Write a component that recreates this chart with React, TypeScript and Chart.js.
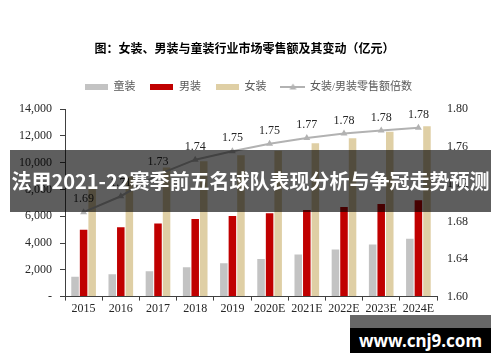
import React, { useEffect, useRef } from "react";
import { Chart, registerables } from "chart.js";

Chart.register(...registerables);

const categories = ["2015", "2016", "2017", "2018", "2019", "2020E", "2021E", "2022E", "2023E", "2024E"];
const kidsWear = [1480, 1665, 1890, 2185, 2480, 2800, 3150, 3520, 3895, 4310];
const mensWear = [4980, 5180, 5455, 5800, 6020, 6220, 6470, 6690, 6915, 7190];
const womensWear = [8260, 8950, 9640, 10110, 10540, 10890, 11440, 11820, 12310, 12710];
const ratio = [1.69, 1.707, 1.73, 1.746, 1.755, 1.763, 1.769, 1.774, 1.777, 1.78];
const ratioLabels = ["1.69", "1.71", "1.73", "1.74", "1.75", "1.75", "1.77", "1.78", "1.78", "1.78"];
const leftTicks = [0, 2000, 4000, 6000, 8000, 10000, 12000, 14000];
const rightTicks = [1.6, 1.64, 1.68, 1.72, 1.76, 1.8];
const seriesNames = ["童装", "男装", "女装", "女装/男装零售额倍数"];
const chartTitle = "图：女装、男装与童装行业市场零售额及其变动（亿元）";
const bannerText = "法甲2021-22赛季前五名球队表现分析与争冠走势预测";
const watermarkText = "www.cnj9.com";

const GRAY = "#c3c3c3";
const RED = "#c00000";
const BEIGE = "#dfcfa5";
const LINE = "#b2b2b2";
const AXIS = "#404040";
const TEXT = "#262626";
const SERIF = "'Liberation Serif', 'Noto Sans CJK SC', serif";

function boxImage(color: string) {
  const c = document.createElement("canvas");
  c.width = 23;
  c.height = 6;
  const g = c.getContext("2d")!;
  g.fillStyle = color;
  g.fillRect(0, 0, 23, 6);
  return c;
}

function lineImage() {
  const c = document.createElement("canvas");
  c.width = 25;
  c.height = 8;
  const g = c.getContext("2d")!;
  g.strokeStyle = LINE;
  g.lineWidth = 2;
  g.beginPath();
  g.moveTo(0, 4);
  g.lineTo(25, 4);
  g.stroke();
  g.fillStyle = LINE;
  g.beginPath();
  g.moveTo(12.5, 0.5);
  g.lineTo(16, 6.5);
  g.lineTo(9, 6.5);
  g.closePath();
  g.fill();
  return c;
}

export default function App() {
  const ref = useRef<HTMLCanvasElement | null>(null);

  useEffect(() => {
    if (!ref.current) return;
    const imgs = [boxImage(GRAY), boxImage(RED), boxImage(BEIGE), lineImage()];

    const legendMargin = {
      id: "legendMargin",
      beforeInit(chart: any) {
        const fit = chart.legend.fit;
        chart.legend.fit = function () {
          fit.bind(chart.legend)();
          this.height += 6.5;
          if (this.lineWidths && this.lineWidths.length) this.lineWidths[0] -= 8;
        };
      },
    };

    const ratioLabelPlugin = {
      id: "ratioLabels",
      afterDatasetsDraw(chart: any) {
        const meta = chart.getDatasetMeta(3);
        const ctx = chart.ctx;
        ctx.save();
        ctx.font = `12px ${SERIF}`;
        ctx.fillStyle = TEXT;
        ctx.textAlign = "center";
        ctx.textBaseline = "middle";
        meta.data.forEach((pt: any, i: number) => {
          ctx.fillText(ratioLabels[i], pt.x, pt.y - 13);
        });
        ctx.restore();
      },
    };

    const chart = new Chart(ref.current, {
      type: "bar",
      data: {
        labels: categories,
        datasets: [
          { label: seriesNames[0], data: kidsWear, backgroundColor: GRAY, yAxisID: "y", order: 1 },
          { label: seriesNames[1], data: mensWear, backgroundColor: RED, yAxisID: "y", order: 1 },
          { label: seriesNames[2], data: womensWear, backgroundColor: BEIGE, yAxisID: "y", order: 1 },
          {
            type: "line",
            label: seriesNames[3],
            data: ratio,
            yAxisID: "y1",
            borderColor: LINE,
            backgroundColor: LINE,
            borderWidth: 2,
            pointStyle: "triangle",
            pointRadius: 4,
            pointBackgroundColor: LINE,
            pointBorderColor: LINE,
            pointBorderWidth: 0,
            tension: 0,
            order: 0,
          } as any,
        ],
      },
      options: {
        responsive: false,
        animation: false,
        devicePixelRatio: 1,
        layout: { padding: { top: 41, left: 11, right: 22, bottom: 45 } },
        datasets: { bar: { categoryPercentage: 0.69, barPercentage: 0.88 } },
        plugins: {
          tooltip: { enabled: false },
          title: {
            display: true,
            text: chartTitle,
            color: "#000",
            font: { family: "'Noto Sans CJK SC', sans-serif", size: 12, weight: "bold", lineHeight: 1.2 },
            padding: { top: 0, bottom: 11.1 },
          },
          legend: {
            display: true,
            position: "top",
            labels: {
              usePointStyle: true,
              pointStyleWidth: 23,
              padding: 15,
              color: "#595959",
              font: { family: SERIF, size: 11 },
              sort: (a: any, b: any) => a.datasetIndex - b.datasetIndex,
              generateLabels: (c: any) => {
                const items = (Chart.defaults.plugins.legend.labels as any).generateLabels(c);
                items.forEach((it: any) => {
                  it.pointStyle = imgs[it.datasetIndex];
                });
                return items;
              },
            },
          },
        },
        scales: {
          x: {
            grid: { display: true, drawOnChartArea: false, drawTicks: true, tickLength: 4, color: AXIS, offset: true },
            border: { display: true, color: AXIS, width: 1 },
            ticks: { color: TEXT, font: { family: SERIF, size: 12 }, padding: 1, maxRotation: 0, autoSkip: false },
          },
          y: {
            position: "left",
            min: leftTicks[0],
            max: leftTicks[leftTicks.length - 1],
            afterBuildTicks: (s: any) => {
              s.ticks = leftTicks.map((v) => ({ value: v }));
            },
            grid: { display: true, drawOnChartArea: false, drawTicks: true, tickLength: 5, color: AXIS },
            border: { display: true, color: AXIS, width: 1 },
            ticks: {
              color: TEXT,
              font: { family: SERIF, size: 12 },
              padding: 8,
              callback: (v: any) => (Number(v) === 0 ? "-" : Number(v).toLocaleString("en-US")),
            },
          },
          y1: {
            position: "right",
            min: rightTicks[0],
            max: rightTicks[rightTicks.length - 1],
            afterBuildTicks: (s: any) => {
              s.ticks = rightTicks.map((v) => ({ value: v }));
            },
            grid: { display: false, drawOnChartArea: false, drawTicks: false },
            border: { display: false },
            ticks: {
              color: TEXT,
              font: { family: SERIF, size: 12 },
              padding: 10,
              callback: (v: any) => Number(v).toFixed(2),
            },
          },
        },
      },
      plugins: [legendMargin, ratioLabelPlugin],
    } as any);

    return () => chart.destroy();
  }, []);

  return (
    <div style={{ position: "absolute", left: 0, top: 0, width: 500, height: 362, background: "#fff", overflow: "hidden" }}>
      <canvas ref={ref} width={500} height={362} style={{ display: "block" }} />
      <div
        style={{
          position: "absolute",
          left: 10,
          top: 150,
          width: 481,
          height: 62,
          background: "rgba(0,0,0,0.63)",
          color: "#fff",
          fontFamily: "'Noto Sans CJK SC', sans-serif",
          fontWeight: "bold",
          fontSize: 20,
          lineHeight: "62px",
          textAlign: "center",
          whiteSpace: "nowrap",
        }}
      >
        {bannerText}
      </div>
      <div
        style={{
          position: "absolute",
          left: 350,
          top: 315,
          width: 141,
          height: 13,
          background: "rgba(0,0,0,0.6)",
        }}
      />
      <div
        style={{
          position: "absolute",
          left: 350,
          top: 328,
          width: 141,
          height: 25,
          background: "#000",
          color: "#fff",
          fontFamily: "'Noto Sans', sans-serif",
          fontWeight: "bold",
          fontSize: 17,
          lineHeight: "25px",
          textAlign: "center",
          whiteSpace: "nowrap",
        }}
      >
        {watermarkText}
      </div>
    </div>
  );
}
